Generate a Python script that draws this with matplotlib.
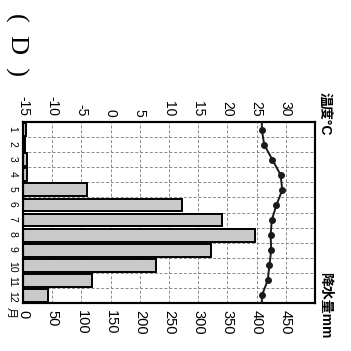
import numpy as np
import matplotlib
matplotlib.use('Agg')
import matplotlib.pyplot as plt

plt.rcParams['font.family'] = ['Liberation Sans', 'Noto Sans CJK SC', 'DejaVu Sans']

months = np.arange(1, 13)
month_labels = ['1', '2', '3', '4', '5', '6', '7', '8', '9', '10', '11', '12']
precip = [5, 3, 6, 7, 110, 272, 340, 398, 322, 228, 118, 43]
temp = [25.9, 26.3, 27.7, 29.1, 29.4, 28.4, 27.6, 27.4, 27.5, 27.2, 26.9, 25.9]
precip_ticks = [0, 50, 100, 150, 200, 250, 300, 350, 400, 450]
temp_ticks = [-15, -10, -5, 0, 5, 10, 15, 20, 25, 30]

W = 351
fig = plt.figure(figsize=(3.51, 3.51), dpi=100)
fig.patch.set_facecolor('white')
ax = fig.add_axes([23/W, (W-303)/W, (315-23)/W, (303-122)/W])

# grid
for m in np.arange(0.5, 13, 1):
    ax.axhline(m, color='#8a8a8a', lw=0.7, ls=(0, (3, 2)), zorder=0)
for p in range(0, 501, 50):
    ax.axvline(p, color='#8a8a8a', lw=0.7, ls=(0, (3, 2)), zorder=0)

ax.barh(months, precip, height=0.85, color='#c9c9c9', edgecolor='black', linewidth=1.4, zorder=2)
ax.set_xlim(0, 500)
ax.set_ylim(12.5, 0.5)
ax.set_xticks(precip_ticks)
ax.set_xticklabels([str(v) for v in precip_ticks])
ax.set_yticks(months)
ax.set_yticklabels(month_labels)
ax.tick_params(axis='x', length=0, pad=5, labelsize=10.5, labelrotation=-90)
ax.tick_params(axis='y', length=0, pad=4, labelsize=7.5, labelrotation=-90)
for s in ax.spines.values():
    s.set_linewidth(1.5)

ax2 = ax.twiny()
ax2.set_xlim(-15, 35)
ends = (temp[0] + temp[-1]) / 2
ty = [0.5] + list(months) + [12.5]
tx = [ends] + temp + [ends]
ax2.plot(tx, ty, color='#1a1a1a', lw=1.4, zorder=3)
ax2.plot(temp, months, 'o', color='#1a1a1a', ms=4, zorder=4)
ax2.set_xticks(temp_ticks)
ax2.set_xticklabels([str(v) for v in temp_ticks])
ax2.tick_params(axis='x', length=0, pad=4, labelsize=10, labelrotation=-90)
for s in ax2.spines.values():
    s.set_linewidth(1.5)

fig.text(325/W, 1 - 92/W, '温度°C', rotation=-90, fontsize=10, fontweight='bold',
         ha='center', va='top')
fig.text(325/W, 1 - 272/W, '降水量mm', rotation=-90, fontsize=10, fontweight='bold',
         ha='center', va='top')
fig.text(11/W, 1 - 307/W, '月', rotation=-90, fontsize=8, ha='center', va='top')
fig.text(17/W, 1 - 45/W, '(  D  )', rotation=-90, fontsize=19,
         family='Liberation Serif', ha='center', va='center')

fig.savefig('out.png', dpi=100)
